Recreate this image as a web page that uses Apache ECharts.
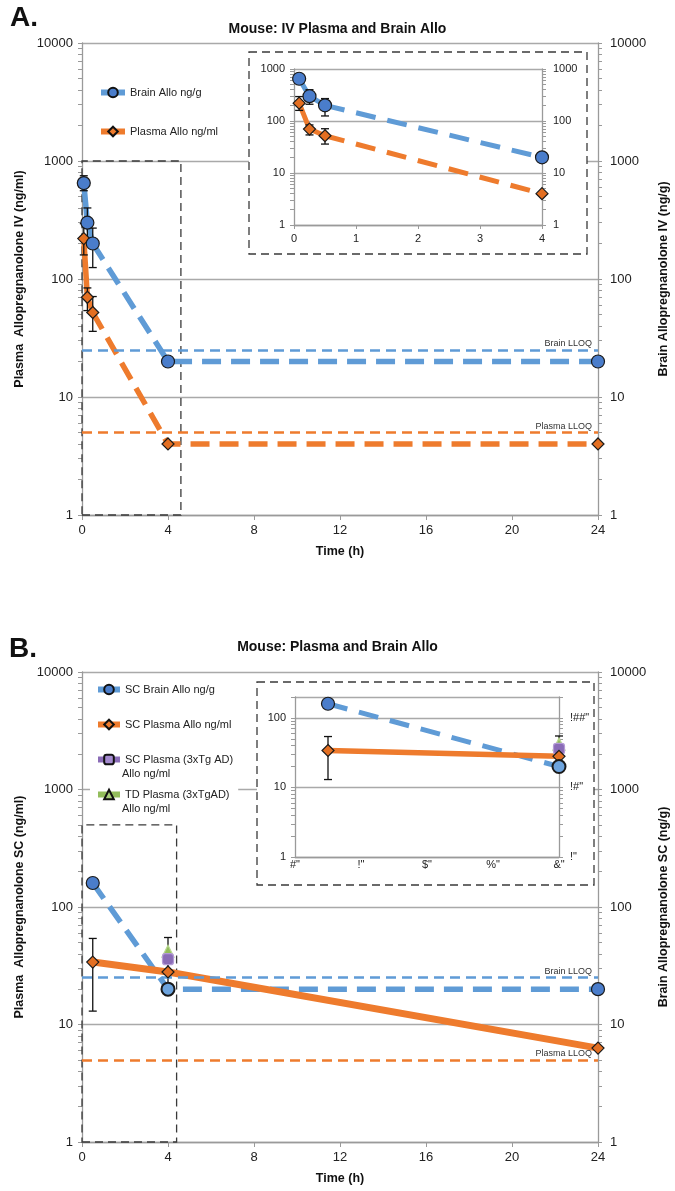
<!DOCTYPE html>
<html><head><meta charset="utf-8">
<script src="https://cdn.jsdelivr.net/npm/echarts@6/dist/echarts.min.js"></script>
<style>html,body{margin:0;padding:0;background:#fff}#c{width:675px;height:1191px}</style>
</head><body><div id="c"></div>
<script>
// ---------------- data ----------------
const timesA = [0.083, 0.25, 0.5, 4, 24];
const brainA = [650, 300, 200, 20, 20];
const brainAErrLow = [560, 210, 125, null, null];
const brainAErrHigh = [750, 400, 270, null, null];
const plasmaA = [220, 70, 52, 4, 4];
const plasmaAErrLow = [160, 54, 36, null, null];
const plasmaAErrHigh = [295, 84, 71, null, null];

const timesB = [0.5, 4, 24];
const brainB = [160, 20, 20];
const plasmaB = [34, 28, 6.3];
const plasmaBErrLow = [13, 18, null];
const plasmaBErrHigh = [54, 55, null];
const tgTimesB = [4];
const scPlasmaTgB = [36];
const tdPlasmaTgB = [42];

const brainLLOQ = 25;
const plasmaLLOQ = 5;
const zoomBoxA = [4.6, 1000];
const zoomBoxB = [4.4, 500];

const mainYTicks = [1, 10, 100, 1000, 10000];
const insetAYTicks = [1, 10, 100, 1000];
const insetBYTicks = [1, 10, 100];
const insetBYLabels = ['!"', '!#"', '!##"'];
const insetXTicks = [0, 1, 2, 3, 4];
const insetBXLabels = ['#"', '!"', '$"', '%"', '&"'];

// ---------------- style ----------------
const FONT = "'Liberation Sans', Arial, sans-serif";
const GRID_GRAY = '#a9a9a9';
const AXIS_GRAY = '#9a9a9a';
const BLUE_LINE = '#5f9bd6';
const BLUE_MK = '#4a7dcb';
const BLUE_MK_LIGHT = '#6da4de';
const ORANGE = '#ee7b2d';
const ORANGE_MK = '#e36f22';
const PURPLE = '#8a6cb7';
const GREEN = '#93bd5c';

function logTicks(min, max) {
  const v = [];
  for (let d = 1; d <= max; d *= 10) for (let k = 1; k < 10; k++) { const t = k * d; if (t >= min && t <= max) v.push(t); }
  return v;
}
function tickFmt(ticks, labels) {
  return function (v) {
    const i = ticks.indexOf(Math.round(v));
    if (i < 0) return '';
    return labels ? labels[i] : String(ticks[i]);
  };
}
function yAx(grid, pos, min, max, ticks, o) {
  return Object.assign({
    type: 'log', logBase: 10, gridIndex: grid, position: pos, min: min, max: max,
    axisLine: { show: true, lineStyle: { color: AXIS_GRAY, width: 1.3 } },
    axisTick: { show: true, inside: false, length: 4, customValues: logTicks(min, max), lineStyle: { color: AXIS_GRAY } },
    axisLabel: { fontSize: 13, color: '#222', fontFamily: FONT, margin: 9, formatter: tickFmt(ticks) },
    splitLine: { show: false }
  }, o || {});
}
function yGridAx(grid, min, max, z) {
  return { type: 'log', logBase: 10, gridIndex: grid, min: min, max: max, z: z || 0,
    axisLine: { show: false }, axisTick: { show: false }, axisLabel: { show: false },
    splitLine: { show: true, lineStyle: { color: GRID_GRAY, width: 1.3 } } };
}
function xAx(grid, max, interval, o) {
  return Object.assign({
    type: 'value', gridIndex: grid, min: 0, max: max, interval: interval,
    axisLine: { show: true, onZero: false, lineStyle: { color: AXIS_GRAY, width: 1.3 } },
    axisTick: { show: true, inside: false, length: 5, lineStyle: { color: AXIS_GRAY } },
    axisLabel: { fontSize: 13, color: '#222', fontFamily: FONT, margin: 9 },
    splitLine: { show: false }
  }, o || {});
}

const series = [];
function pts(xs, ys, from, to, maxX) {
  const o = [];
  for (let i = from; i <= to; i++) {
    if (ys[i] == null) continue;
    if (maxX != null && xs[i] > maxX) continue;
    o.push([xs[i], ys[i]]);
  }
  return o;
}
function errPts(xs, lo, hi, maxX) {
  const o = [];
  for (let i = 0; i < xs.length; i++) {
    if (lo[i] == null) continue;
    if (maxX != null && xs[i] > maxX) continue;
    o.push([xs[i], lo[i], hi[i]]);
  }
  return o;
}
function addLine(xi, yi, xs, ys, solidEnd, color, width, dash, z, maxX) {
  const last = xs.length - 1;
  if (solidEnd > 0) series.push({ type: 'line', xAxisIndex: xi, yAxisIndex: yi, data: pts(xs, ys, 0, solidEnd, maxX),
    symbol: 'none', silent: true, z: z, lineStyle: { color: color, width: width, type: 'solid', cap: 'round', join: 'round' } });
  if (solidEnd < last) series.push({ type: 'line', xAxisIndex: xi, yAxisIndex: yi, data: pts(xs, ys, solidEnd, last, maxX),
    symbol: 'none', silent: true, z: z, lineStyle: { color: color, width: width, type: dash, cap: 'butt' } });
}
function addErr(xi, yi, data, z) {
  series.push({ type: 'custom', xAxisIndex: xi, yAxisIndex: yi, data: data, z: z, silent: true,
    renderItem: function (params, api) {
      const lo = api.coord([api.value(0), api.value(1)]);
      const hi = api.coord([api.value(0), api.value(2)]);
      const w = 4;
      const st = { stroke: '#111', lineWidth: 1.3 };
      return { type: 'group', children: [
        { type: 'line', shape: { x1: lo[0], y1: lo[1], x2: hi[0], y2: hi[1] }, style: st },
        { type: 'line', shape: { x1: lo[0] - w, y1: lo[1], x2: lo[0] + w, y2: lo[1] }, style: st },
        { type: 'line', shape: { x1: hi[0] - w, y1: hi[1], x2: hi[0] + w, y2: hi[1] }, style: st }
      ] };
    } });
}
function addMarks(xi, yi, data, symbol, size, color, z, border, lightAt) {
  const d = data.map(p => (lightAt != null && p[0] === lightAt) ? { value: p, itemStyle: { color: BLUE_MK_LIGHT, borderWidth: 2 } } : p);
  series.push({ type: 'scatter', xAxisIndex: xi, yAxisIndex: yi, data: d, symbol: symbol, symbolSize: size, z: z, silent: true,
    itemStyle: { color: color, borderColor: border || '#1a1a1a', borderWidth: 1.2, opacity: 1 } });
}
function addRefs(xi, yi, box, z) {
  series.push({ type: 'line', xAxisIndex: xi, yAxisIndex: yi, data: [], symbol: 'none', z: z, silent: true,
    markLine: { symbol: 'none', silent: true, animation: false,
      label: { position: 'insideEndTop', fontSize: 9, color: '#333', fontFamily: FONT, distance: [6, 2] },
      data: [
        { yAxis: brainLLOQ, lineStyle: { color: BLUE_LINE, width: 2.5, type: [10, 6] }, label: { formatter: 'Brain LLOQ' } },
        { yAxis: plasmaLLOQ, lineStyle: { color: ORANGE, width: 2.5, type: [10, 6] }, label: { formatter: 'Plasma LLOQ' } }
      ] },
    markArea: { silent: true, itemStyle: { color: 'rgba(0,0,0,0)', borderColor: '#3a3a3a', borderWidth: 1.3, borderType: [8, 5] },
      data: [[{ coord: [0, 1] }, { coord: box }]] } });
}

// ---- Panel A main (x0, y0) ----
addRefs(0, 0, zoomBoxA, 2);
addLine(0, 0, timesA, brainA, 2, BLUE_LINE, 5.5, [19, 10], 3);
addLine(0, 0, timesA, plasmaA, 2, ORANGE, 5.5, [19, 10], 3);
addErr(0, 0, errPts(timesA, brainAErrLow, brainAErrHigh), 4);
addErr(0, 0, errPts(timesA, plasmaAErrLow, plasmaAErrHigh), 4);
addMarks(0, 0, pts(timesA, plasmaA, 0, 4), 'diamond', 12, ORANGE_MK, 5);
addMarks(0, 0, pts(timesA, brainA, 0, 4), 'circle', 13, BLUE_MK, 5);
// ---- Panel A inset (x1, y3) ----
addLine(1, 3, timesA, brainA, 2, BLUE_LINE, 5, [20, 12], 11, 4);
addLine(1, 3, timesA, plasmaA, 2, ORANGE, 5, [20, 12], 11, 4);
addErr(1, 3, errPts(timesA, brainAErrLow, brainAErrHigh, 4), 12);
addErr(1, 3, errPts(timesA, plasmaAErrLow, plasmaAErrHigh, 4), 12);
addMarks(1, 3, pts(timesA, plasmaA, 0, 4, 4), 'diamond', 12, ORANGE_MK, 13);
addMarks(1, 3, pts(timesA, brainA, 0, 4, 4), 'circle', 13, BLUE_MK, 13);
// ---- Panel B main (x2, y6) ----
addRefs(2, 6, zoomBoxB, 2);
addLine(2, 6, timesB, brainB, 0, BLUE_LINE, 5.5, [19, 10], 3);
addLine(2, 6, timesB, plasmaB, 2, ORANGE, 7, 'solid', 3);
addErr(2, 6, errPts(timesB, plasmaBErrLow, plasmaBErrHigh), 4);
addMarks(2, 6, pts(tgTimesB, tdPlasmaTgB, 0, 0), 'triangle', 12, GREEN, 5, '#b7d78f');
addMarks(2, 6, pts(tgTimesB, scPlasmaTgB, 0, 0), 'roundRect', 11, PURPLE, 5, '#b49bd6');
addMarks(2, 6, pts(timesB, plasmaB, 0, 2), 'diamond', 12, ORANGE_MK, 6);
addMarks(2, 6, pts(timesB, brainB, 0, 2), 'circle', 13, BLUE_MK, 6, null, 4);
// ---- Panel B inset (x3, y9) ----
addLine(3, 9, timesB, brainB, 0, BLUE_LINE, 5, [20, 12], 11, 4);
addLine(3, 9, timesB, plasmaB, 2, ORANGE, 5.5, 'solid', 11, 4);
addErr(3, 9, errPts(timesB, plasmaBErrLow, plasmaBErrHigh, 4), 12);
addMarks(3, 9, pts(tgTimesB, tdPlasmaTgB, 0, 0, 4), 'triangle', 12, GREEN, 13, '#b7d78f');
addMarks(3, 9, pts(tgTimesB, scPlasmaTgB, 0, 0, 4), 'roundRect', 11, PURPLE, 13, '#b49bd6');
addMarks(3, 9, pts(timesB, plasmaB, 0, 2, 4), 'diamond', 12, ORANGE_MK, 14);
addMarks(3, 9, pts(timesB, brainB, 0, 2, 4), 'circle', 13, BLUE_MK, 14, null, 4);

// ---- legend proxies ----
function proxy(name, symbol, lineColor, mkColor, xi, yi) {
  series.push({ type: 'line', name: name, xAxisIndex: xi, yAxisIndex: yi, data: [], symbol: symbol, symbolSize: 9,
    lineStyle: { color: lineColor, width: 6 }, itemStyle: { color: mkColor, borderColor: '#111', borderWidth: 1.5 } });
}
proxy('Brain Allo ng/g', 'circle', BLUE_LINE, BLUE_MK, 0, 0);
proxy('Plasma Allo ng/ml', 'diamond', ORANGE, ORANGE, 0, 0);
proxy('SC Brain Allo ng/g', 'circle', BLUE_LINE, BLUE_MK, 2, 6);
proxy('SC Plasma Allo ng/ml', 'diamond', ORANGE, ORANGE, 2, 6);
proxy('SC Plasma (3xTg AD)', 'roundRect', PURPLE, '#a58bd0', 2, 6);
proxy('TD Plasma (3xTgAD)', 'triangle', GREEN, '#a9cf7a', 2, 6);

const nameStyle = { fontWeight: 'bold', fontSize: 12.5, color: '#111', fontFamily: FONT };
const insetLbl = { fontSize: 11, color: '#222', fontFamily: FONT };
const legLine = { width: 6, cap: 'butt' };

const option = {
  animation: false,
  backgroundColor: '#fff',
  title: [
    { text: 'A.', left: 5, top: -1, textStyle: { fontSize: 28, fontWeight: 'bold', color: '#111', fontFamily: FONT } },
    { text: 'Mouse: IV Plasma and Brain Allo', left: 'center', top: 17, textStyle: { fontSize: 14, fontWeight: 'bold', color: '#111', fontFamily: FONT } },
    { text: 'B.', left: 4, top: 630, textStyle: { fontSize: 28, fontWeight: 'bold', color: '#111', fontFamily: FONT } },
    { text: 'Mouse: Plasma and Brain Allo', left: 'center', top: 635, textStyle: { fontSize: 14, fontWeight: 'bold', color: '#111', fontFamily: FONT } }
  ],
  legend: [
    { left: 93, top: 81, orient: 'vertical', itemWidth: 24, itemHeight: 12, itemGap: 26, padding: 5, lineStyle: legLine,
      data: ['Brain Allo ng/g', 'Plasma Allo ng/ml'], textStyle: { fontSize: 11, color: '#222', fontFamily: FONT, lineHeight: 13 } },
    { left: 90, top: 678, orient: 'vertical', itemWidth: 22, itemHeight: 12, itemGap: 22, padding: 5, backgroundColor: '#fff', lineStyle: legLine,
      data: ['SC Brain Allo ng/g', 'SC Plasma Allo ng/ml', 'SC Plasma (3xTg AD)', 'TD Plasma (3xTgAD)'],
      textStyle: { fontSize: 11, color: '#222', fontFamily: FONT, lineHeight: 13 } }
  ],
  grid: [
    { left: 82, top: 43, width: 516, height: 472, outerBoundsMode: 'none', containLabel: false },
    { left: 294, top: 69, width: 248, height: 156, z: 10, outerBoundsMode: 'none', containLabel: false },
    { left: 82, top: 672, width: 516, height: 470, outerBoundsMode: 'none', containLabel: false },
    { left: 295, top: 697, width: 264, height: 160, z: 10, outerBoundsMode: 'none', containLabel: false }
  ],
  xAxis: [
    xAx(0, 24, 4, { name: 'Time (h)', nameLocation: 'middle', nameGap: 30, nameTextStyle: nameStyle }),
    xAx(1, 4, 1, { z: 10, axisLabel: Object.assign({ margin: 8 }, insetLbl), axisTick: { show: true, length: 4, lineStyle: { color: AXIS_GRAY } } }),
    xAx(2, 24, 4, { name: 'Time (h)', nameLocation: 'middle', nameGap: 30, nameTextStyle: nameStyle }),
    xAx(3, 4, 1, { z: 10, axisLabel: Object.assign({ margin: 2, formatter: tickFmt(insetXTicks, insetBXLabels) }, insetLbl),
      axisTick: { show: false } })
  ],
  yAxis: [
    yAx(0, 'left', 1, 10000, mainYTicks, { name: 'Plasma  Allopregnanolone IV (ng/ml)', nameLocation: 'middle', nameRotate: 90, nameGap: 52, nameTextStyle: nameStyle }),
    yAx(0, 'right', 1, 10000, mainYTicks, { name: 'Brain Allopregnanolone IV (ng/g)', nameLocation: 'middle', nameRotate: 90, nameGap: 58, nameTextStyle: nameStyle, axisLabel: { fontSize: 13, color: '#222', fontFamily: FONT, margin: 12, formatter: tickFmt(mainYTicks) } }),
    yGridAx(0, 1, 10000, 0),
    yAx(1, 'left', 1, 1000, insetAYTicks, { z: 10, axisLabel: Object.assign({ margin: 9, formatter: tickFmt(insetAYTicks) }, insetLbl) }),
    yAx(1, 'right', 1, 1000, insetAYTicks, { z: 10, axisLabel: Object.assign({ margin: 11, formatter: tickFmt(insetAYTicks) }, insetLbl) }),
    yGridAx(1, 1, 1000, 10),
    yAx(2, 'left', 1, 10000, mainYTicks, { name: 'Plasma  Allopregnanolone SC (ng/ml)', nameLocation: 'middle', nameRotate: 90, nameGap: 52, nameTextStyle: nameStyle }),
    yAx(2, 'right', 1, 10000, mainYTicks, { name: 'Brain Allopregnanolone SC (ng/g)', nameLocation: 'middle', nameRotate: 90, nameGap: 58, nameTextStyle: nameStyle, axisLabel: { fontSize: 13, color: '#222', fontFamily: FONT, margin: 12, formatter: tickFmt(mainYTicks) } }),
    yGridAx(2, 1, 10000, 0),
    yAx(3, 'left', 1, 200, insetBYTicks, { z: 10, axisLabel: Object.assign({ margin: 9, formatter: tickFmt(insetBYTicks) }, insetLbl) }),
    yAx(3, 'right', 1, 200, insetBYTicks, { z: 10, axisLabel: Object.assign({ margin: 11, formatter: tickFmt(insetBYTicks, insetBYLabels) }, insetLbl) }),
    yGridAx(3, 1, 200, 10)
  ],
  graphic: [
    { type: 'rect', z: 6, shape: { x: 249, y: 52, width: 338, height: 202 }, style: { fill: '#fff', stroke: '#3a3a3a', lineWidth: 1.3, lineDash: [8, 5] } },
    { type: 'rect', z: 6, shape: { x: 257, y: 682, width: 337, height: 203 }, style: { fill: '#fff', stroke: '#3a3a3a', lineWidth: 1.3, lineDash: [8, 5] } },
    { type: 'text', z: 20, x: 122, y: 774, style: { text: 'Allo ng/ml', fontSize: 11, fill: '#222', fontFamily: FONT, verticalAlign: 'middle' } },
    { type: 'text', z: 20, x: 122, y: 809, style: { text: 'Allo ng/ml', fontSize: 11, fill: '#222', fontFamily: FONT, verticalAlign: 'middle' } }
  ],
  series: series
};
const chart = echarts.init(document.getElementById('c'), null, { renderer: 'canvas' });
chart.setOption(option);
</script>
</body></html>
